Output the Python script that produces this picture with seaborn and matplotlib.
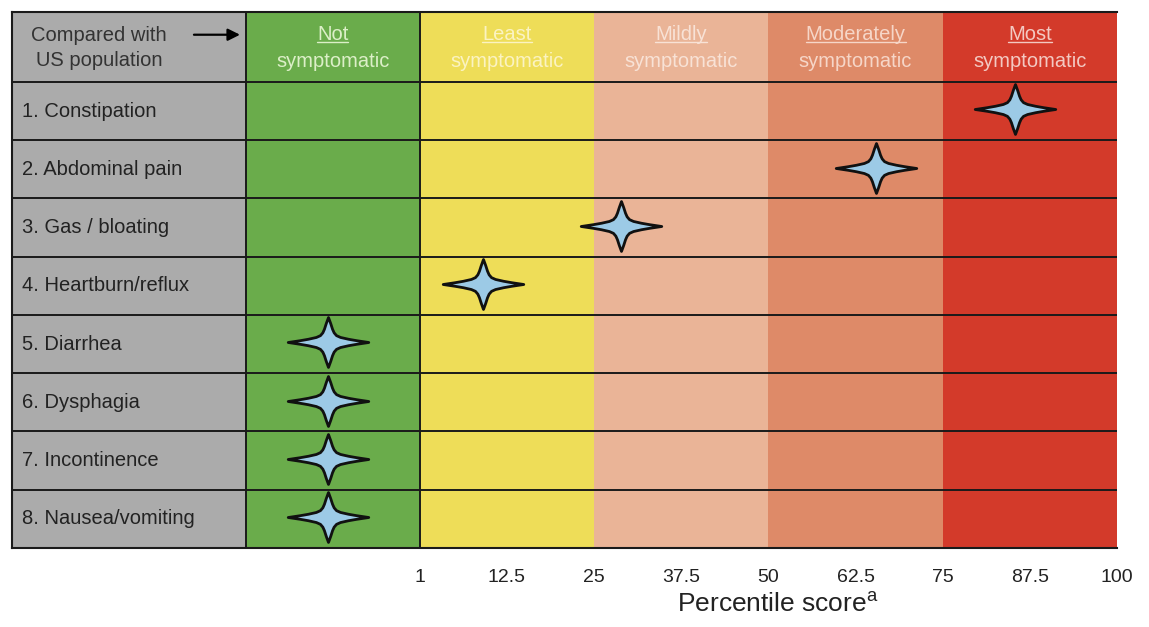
import numpy as np
import pandas as pd
import matplotlib
matplotlib.use('Agg')
import matplotlib.pyplot as plt
from matplotlib.path import Path
import seaborn as sns

symptoms = ['1. Constipation', '2. Abdominal pain', '3. Gas / bloating',
            '4. Heartburn/reflux', '5. Diarrhea', '6. Dysphagia',
            '7. Incontinence', '8. Nausea/vomiting']
# star position on the percentile axis (green band sits left of 1)
star_x = [85.4, 65.4, 28.8, 9.0, -13.2, -13.2, -13.2, -13.2]

band_first = ['Not', 'Least', 'Mildly', 'Moderately', 'Most']
band_second = ['symptomatic'] * 5
band_lo = [-25, 0, 25, 50, 75]
band_hi = [0, 25, 50, 75, 100]
band_colors = ['#6aac4b', '#eedd58', '#eab497', '#de8a68', '#d33a2a']
band_text = ['#dcefc8', '#fbf3c2', '#f8e2d6', '#f6d6c8', '#f3c9c2']

tick_pos = [0, 12.5, 25, 37.5, 50, 62.5, 75, 87.5, 100]
tick_labels = ['1', '12.5', '25', '37.5', '50', '62.5', '75', '87.5', '100']

sns.set_style('white')
plt.rcParams['font.family'] = ['Liberation Sans', 'DejaVu Sans']
plt.rcParams['mathtext.fontset'] = 'custom'
plt.rcParams['mathtext.rm'] = 'Liberation Sans'

fig = plt.figure(figsize=(11.49, 6.27), dpi=100)
ax = fig.add_axes([12 / 1149, 1 - 548 / 627, 1105 / 1149, 536 / 627])

x_left = -58.5
header_h = 1.2
ax.set_xlim(x_left, 100)
ax.set_ylim(len(symptoms), -header_h)

# grey label column + colored bands
ax.axvspan(x_left, -25, color='#ababab', lw=0, zorder=0)
for lo, hi, c in zip(band_lo, band_hi, band_colors):
    ax.axvspan(lo, hi, color=c, lw=0, zorder=0)

for y in range(len(symptoms)):
    ax.axhline(y, color='#1a1a1a', lw=1.4, zorder=1)
ax.axvline(-25, color='#1a1a1a', lw=1.4, zorder=1)
ax.axvline(0, color='#1a1a1a', lw=1.4, zorder=1)

# header
ax.text(-46.0, -0.58, 'Compared with\nUS population', ha='center', va='center',
        fontsize=14.5, color='#333333', linespacing=1.4)
ax.annotate('', xy=(-25.4, -0.81), xytext=(-32.8, -0.81),
            arrowprops=dict(arrowstyle='-|>', color='black', lw=1.6,
                            mutation_scale=18))
first_words = []
for lo, hi, w1, w2, tc in zip(band_lo, band_hi, band_first, band_second, band_text):
    cx = (lo + hi) / 2
    t1 = ax.text(cx, -0.81, w1, ha='center', va='center', fontsize=14.5, color=tc)
    ax.text(cx, -0.35, w2, ha='center', va='center', fontsize=14.5, color=tc)
    first_words.append((t1, tc))

for i, s in enumerate(symptoms):
    ax.text(x_left + 1.5, i + 0.5, s, ha='left', va='center', fontsize=14.5,
            color='#222222')

# four point star marker (one quadrant outline, mirrored)
q = np.array([(1, 0), (0.7, 0.045), (0.5, 0.08), (0.3, 0.125), (0.2, 0.17),
              (0.14, 0.24), (0.1, 0.33), (0.055, 0.47), (0, 0.62)])
q2 = q[::-1][1:] * [-1, 1]
upper = np.vstack([q, q2])
lower = upper[::-1][1:-1] * [1, -1]
star = Path(np.vstack([upper, lower, upper[:1]]), closed=True)

df = pd.DataFrame({'symptom': symptoms, 'x': star_x,
                   'y': np.arange(len(symptoms)) + 0.47})
sns.scatterplot(data=df, x='x', y='y', marker=star, s=58 ** 2,
                color='#9ccae6', edgecolor='#111111', linewidth=2.0,
                zorder=3, ax=ax, legend=False)

ax.set_xticks(tick_pos)
ax.set_xticklabels(tick_labels, fontsize=14, color='#222222')
ax.set_yticks([])
ax.tick_params(axis='x', length=0, pad=15)
ax.set_xlabel(r'Percentile score$^{\mathregular{a}}$', fontsize=19, color='#222222')
ax.xaxis.set_label_coords(0.693, -0.082)
ax.set_ylabel('')

for side in ['top', 'left', 'bottom']:
    ax.spines[side].set_color('#1a1a1a')
    ax.spines[side].set_linewidth(1.5)
ax.spines['right'].set_visible(False)

# underline the first word of each band header
fig.canvas.draw()
renderer = fig.canvas.get_renderer()
inv = ax.transData.inverted()
for t1, tc in first_words:
    bb = t1.get_window_extent(renderer)
    (x0, y0), (x1, _) = inv.transform([(bb.x0, bb.y0 + 2), (bb.x1, bb.y0 + 2)])
    ax.plot([x0, x1], [y0, y0], color=tc, lw=1.0, zorder=2)

fig.savefig('out.png', dpi=100)
